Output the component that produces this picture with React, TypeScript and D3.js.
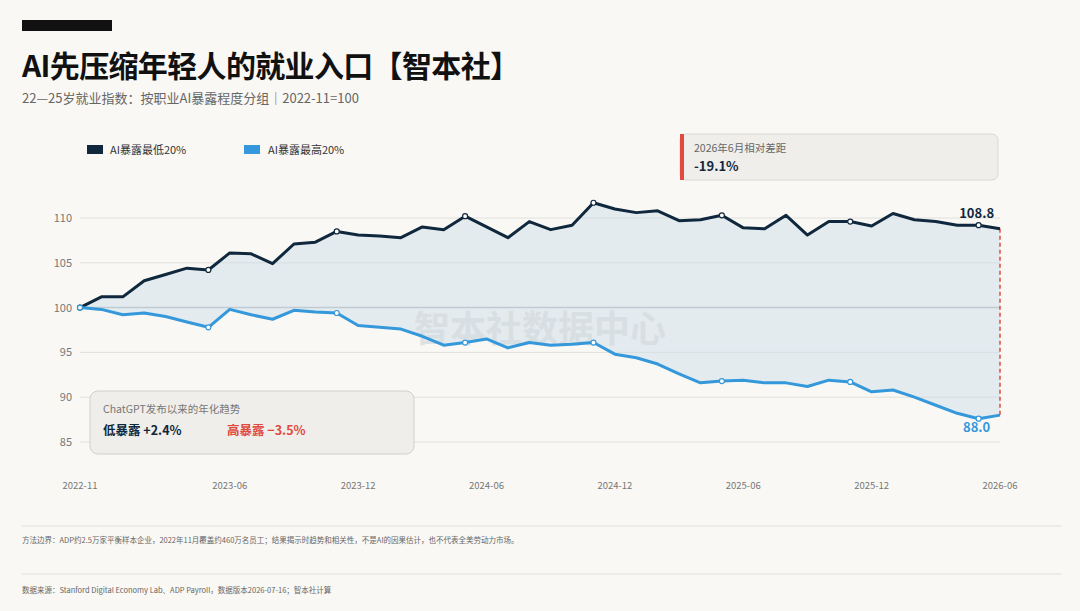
import { useEffect } from "react";
import * as d3 from "d3";

const months = d3.range(44);
const lowExposure = [100, 101.2, 101.2, 103.0, 103.7, 104.4, 104.2, 106.1, 106.0, 104.9, 107.1, 107.3, 108.5, 108.1, 108.0, 107.8, 109.0, 108.7, 110.2, 109.0, 107.8, 109.6, 108.7, 109.2, 111.7, 111.0, 110.6, 110.8, 109.7, 109.8, 110.3, 108.9, 108.8, 110.3, 108.1, 109.6, 109.6, 109.1, 110.5, 109.8, 109.6, 109.2, 109.2, 108.8];
const highExposure = [100, 99.8, 99.2, 99.4, 99.0, 98.4, 97.8, 99.8, 99.2, 98.7, 99.7, 99.5, 99.4, 98.0, 97.8, 97.6, 96.8, 95.8, 96.1, 96.5, 95.5, 96.1, 95.8, 95.9, 96.1, 94.8, 94.4, 93.7, 92.6, 91.6, 91.8, 91.9, 91.6, 91.6, 91.2, 91.9, 91.7, 90.6, 90.8, 90.0, 89.1, 88.2, 87.6, 88.0];
const tickMonths = [0, 7, 13, 19, 25, 31, 37, 43];
const tickLabels = ["2022-11", "2023-06", "2023-12", "2024-06", "2024-12", "2025-06", "2025-12", "2026-06"];
const yTicks = [85, 90, 95, 100, 105, 110];
const markerMonths = [0, 6, 12, 18, 24, 30, 36, 42];

const DARK = "#10283d";
const BLUE = "#3498db";
const FONT = "'Noto Sans CJK SC', 'Noto Sans', sans-serif";

export default function App() {
  useEffect(() => {
    document.body.style.margin = "0";
    document.body.style.background = "#f9f8f4";
  }, []);
  const W = 1080, H = 611;
  const x = d3.scaleLinear().domain([0, months.length - 1]).range([80, 1000]);
  const y = d3.scaleLinear().domain([85, 110]).range([442, 218]);
  const line = d3.line<number>().x((_, i) => x(i)).y((v) => y(v));
  const area = d3.area<number>().x((_, i) => x(i)).y0((_, i) => y(highExposure[i])).y1((v) => y(v));

  return (
    <svg width={W} height={H} style={{ display: "block", fontFamily: FONT }}>
      <rect width={W} height={H} fill="#f9f8f4" />
      <rect x={22} y={20} width={90} height={11} fill="#111" />
      <text x={22} y={77} fontSize={30} fontWeight={700} fill="#111" textLength={498}>AI先压缩年轻人的就业入口【智本社】</text>
      <text x={22} y={103} fontSize={13} fill="#666">22—25岁就业指数：按职业AI暴露程度分组｜2022-11=100</text>

      <rect x={87} y={145} width={16} height={9} fill={DARK} />
      <text x={110} y={154} fontSize={11} fill="#333">AI暴露最低20%</text>
      <rect x={244} y={145} width={16} height={9} fill={BLUE} />
      <text x={268} y={154} fontSize={11} fill="#333">AI暴露最高20%</text>

      <rect x={680} y={134} width={318} height={46} rx={6} fill="#efeeea" stroke="#d8d8d4" />
      <rect x={680} y={134} width={4} height={46} fill="#e04a3f" />
      <text x={694} y={152} fontSize={10.5} fill="#666">2026年6月相对差距</text>
      <text x={694} y={171} fontSize={13} fontWeight={700} fill={DARK}>-19.1%</text>

      {yTicks.map((t) => (
        <g key={t}>
          <line x1={80} x2={1000} y1={y(t)} y2={y(t)} stroke={t === 100 ? "#b8bcc0" : "#e0e0dc"} strokeWidth={t === 100 ? 1.5 : 1} />
          <text x={72} y={y(t) + 4} textAnchor="end" fontSize={11} fill="#777">{t}</text>
        </g>
      ))}
      {tickMonths.map((m, i) => (
        <text key={m} x={x(m)} y={489} textAnchor="middle" fontSize={9.5} fill="#777">{tickLabels[i]}</text>
      ))}

      <path d={area(lowExposure) ?? ""} fill="#c9dce8" opacity={0.45} />
      <text x={540} y={342} textAnchor="middle" fontSize={36} fontWeight={700} fill="#d4dadd" opacity={0.7}>智本社数据中心</text>
      <line x1={x(43)} x2={x(43)} y1={y(108.8)} y2={y(88.0)} stroke="#e04a3f" strokeWidth={1.5} strokeDasharray="4 3" />
      <path d={line(lowExposure) ?? ""} fill="none" stroke={DARK} strokeWidth={3} strokeLinejoin="round" />
      <path d={line(highExposure) ?? ""} fill="none" stroke={BLUE} strokeWidth={3} strokeLinejoin="round" />
      {markerMonths.map((m) => (
        <g key={m}>
          <circle cx={x(m)} cy={y(lowExposure[m])} r={2.5} fill="#fff" stroke={DARK} strokeWidth={1.2} />
          <circle cx={x(m)} cy={y(highExposure[m])} r={2.5} fill="#fff" stroke={BLUE} strokeWidth={1.2} />
        </g>
      ))}
      <text x={x(42) - 2} y={y(108.8) - 11} textAnchor="middle" fontSize={13} fontWeight={700} fill={DARK}>108.8</text>
      <text x={x(42) - 2} y={y(88.0) + 17} textAnchor="middle" fontSize={13} fontWeight={700} fill={BLUE}>88.0</text>

      <rect x={90} y={391} width={324} height={63} rx={8} fill="#efeeea" stroke="#cfcfcb" />
      <text x={103} y={413} fontSize={10.5} fill="#777">ChatGPT发布以来的年化趋势</text>
      <text x={103} y={435} fontSize={12.5} fontWeight={700} fill={DARK}>低暴露 +2.4%</text>
      <text x={227} y={435} fontSize={12.5} fontWeight={700} fill="#e04a3f">高暴露 −3.5%</text>

      <line x1={22} x2={1062} y1={526} y2={526} stroke="#e0e0dc" />
      <text x={22} y={543} fontSize={7.5} fill="#666">方法边界：ADP约2.5万家平衡样本企业，2022年11月覆盖约460万名员工；结果揭示时趋势和相关性，不是AI的因果估计，也不代表全美劳动力市场。</text>
      <line x1={22} x2={1062} y1={574} y2={574} stroke="#e0e0dc" />
      <text x={22} y={593} fontSize={7.5} fill="#666">数据来源：Stanford Digital Economy Lab、ADP Payroll，数据版本2026-07-16；智本社计算</text>
    </svg>
  );
}
